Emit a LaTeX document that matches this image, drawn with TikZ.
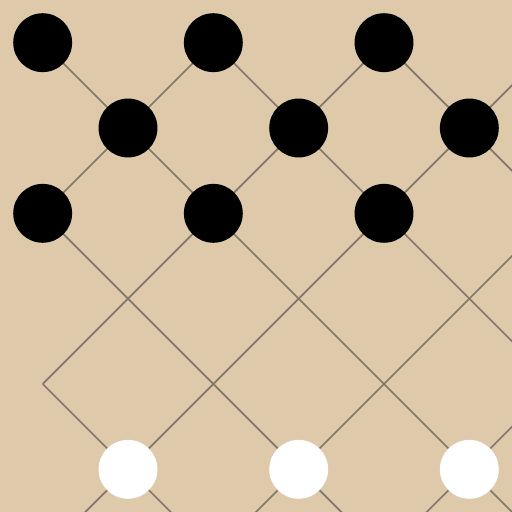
\documentclass[tikz,border=0pt]{standalone}
\definecolor{boardbg}{RGB}{222,201,170}
\definecolor{gridline}{RGB}{130,120,105}
\tikzset{
  gridstyle/.style={draw=gridline, line width=0.55pt},
  blackstone/.style={circle, fill=black, minimum size=0.69cm, inner sep=0pt},
  whitestone/.style={circle, fill=white, minimum size=0.69cm, inner sep=0pt}
}
\begin{document}
\begin{tikzpicture}
\fill[boardbg] (0,0) rectangle (6,6);
\useasboundingbox (0,0) rectangle (6,6);
\begin{scope}
\clip (0.5,0) rectangle (6,5.5);
% down-right lines (i-j = c)
\foreach \c in {-6,-4,-2,0,2,4,6} {
  \draw[gridstyle] ({0.5+\c-1},{5.5+1}) -- ({0.5+\c+8},{5.5-8});
}
% up-right lines (i+j = s)
\foreach \s in {2,4,6,8,10,12} {
  \draw[gridstyle] ({0.5+\s+1},{5.5+1}) -- ({0.5+\s-9},{5.5-9});
}
\end{scope}
% black stones
\foreach \i/\j [count=\k] in {0/0,2/0,4/0,1/1,3/1,5/1,0/2,2/2,4/2} {
  \node[blackstone] (b\k) at ({\i+0.5},{5.5-\j}) {};
}
% white stones
\foreach \i/\j [count=\k] in {1/5,3/5,5/5} {
  \node[whitestone] (w\k) at ({\i+0.5},{5.5-\j}) {};
}
\end{tikzpicture}
\end{document}
